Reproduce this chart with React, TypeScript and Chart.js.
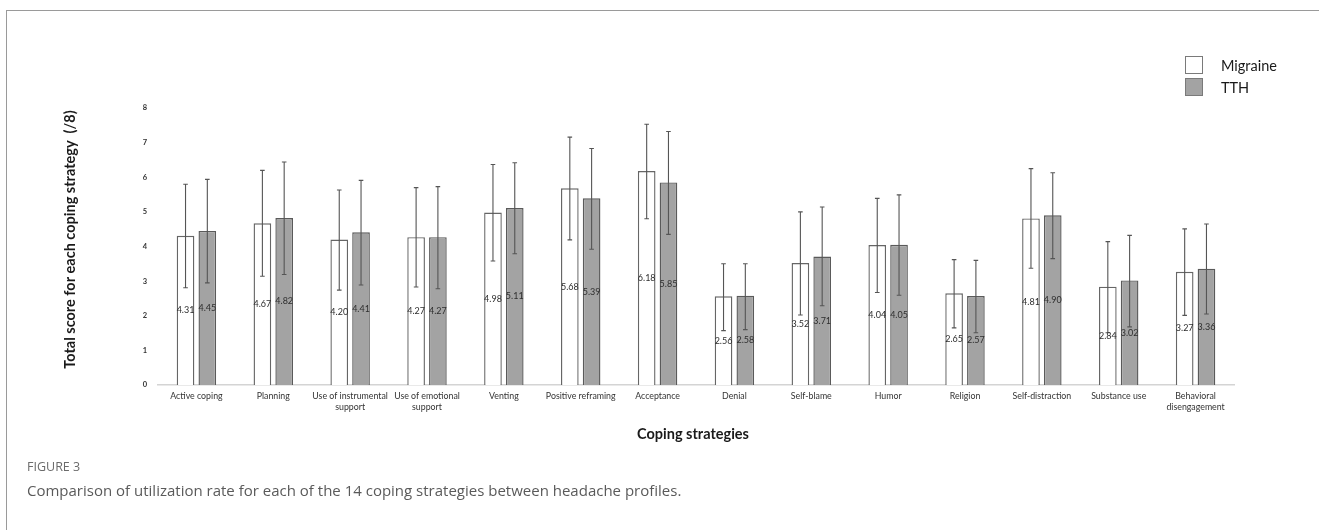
import React, { useEffect, useRef } from "react";
import { Chart, registerables } from "chart.js";

Chart.register(...registerables);

const categories: (string | string[])[] = [
  "Active coping",
  "Planning",
  ["Use of instrumental", "support"],
  ["Use of emotional", "support"],
  "Venting",
  "Positive reframing",
  "Acceptance",
  "Denial",
  "Self-blame",
  "Humor",
  "Religion",
  "Self-distraction",
  "Substance use",
  ["Behavioral", "disengagement"],
];

const migraine = [4.31, 4.67, 4.2, 4.27, 4.98, 5.68, 6.18, 2.56, 3.52, 4.04, 2.65, 4.81, 2.84, 3.27];
const tth = [4.45, 4.82, 4.41, 4.27, 5.11, 5.39, 5.85, 2.58, 3.71, 4.05, 2.57, 4.9, 3.02, 3.36];

const migraineUpper = [5.8, 6.2, 5.63, 5.7, 6.37, 7.16, 7.53, 3.5, 5.0, 5.39, 3.62, 6.25, 4.14, 4.51];
const migraineLower = [2.81, 3.14, 2.74, 2.83, 3.58, 4.19, 4.8, 1.57, 2.02, 2.67, 1.65, 3.37, 1.51, 2.01];
const tthUpper = [5.94, 6.44, 5.91, 5.73, 6.42, 6.83, 7.32, 3.5, 5.14, 5.49, 3.6, 6.13, 4.32, 4.65];
const tthLower = [2.95, 3.19, 2.89, 2.78, 3.79, 3.92, 4.35, 1.6, 2.29, 2.59, 1.51, 3.65, 1.68, 2.05];

const yTicks = [0, 1, 2, 3, 4, 5, 6, 7, 8];

const seriesNames = ["Migraine", "TTH"];
const errUpper = [migraineUpper, tthUpper];
const errLower = [migraineLower, tthLower];

const CHART_FONT = "Lato, 'Open Sans', sans-serif";

const errorBarPlugin = {
  id: "errorBars",
  afterDatasetsDraw(chart: any) {
    const ctx = chart.ctx;
    const y = chart.scales.y;
    ctx.save();
    chart.data.datasets.forEach((ds: any, di: number) => {
      const meta = chart.getDatasetMeta(di);
      meta.data.forEach((el: any, i: number) => {
        const x = el.x;
        const yt = y.getPixelForValue(errUpper[di][i]);
        const yb = y.getPixelForValue(errLower[di][i]);
        ctx.strokeStyle = "#555";
        ctx.lineWidth = 1.1;
        ctx.beginPath();
        ctx.moveTo(x, yt);
        ctx.lineTo(x, yb);
        ctx.moveTo(x - 2.3, yt);
        ctx.lineTo(x + 2.3, yt);
        ctx.moveTo(x - 2.3, yb);
        ctx.lineTo(x + 2.3, yb);
        ctx.stroke();
      });
    });
    // value labels
    ctx.fillStyle = "#2e2e2e";
    ctx.font = `9px ${CHART_FONT}`;
    ctx.textAlign = "center";
    ctx.textBaseline = "middle";
    chart.data.datasets.forEach((ds: any, di: number) => {
      const meta = chart.getDatasetMeta(di);
      meta.data.forEach((el: any, i: number) => {
        const v = ds.data[i] as number;
        const py = y.getPixelForValue(v / 2);
        ctx.fillText(v.toFixed(2), el.x, py);
      });
    });
    ctx.restore();
  },
  afterDraw(chart: any) {
    const ctx = chart.ctx;
    const ca = chart.chartArea;
    ctx.save();
    // y-axis title
    ctx.fillStyle = "#1a1a1a";
    ctx.font = `bold 14.5px ${CHART_FONT}`;
    ctx.textAlign = "center";
    ctx.textBaseline = "middle";
    ctx.translate(70, (ca.top + ca.bottom) / 2 - 7);
    ctx.rotate(-Math.PI / 2);
    ctx.fillText("Total score for each coping strategy  (/8)", 0, 0);
    ctx.restore();

    ctx.save();
    ctx.fillStyle = "#1a1a1a";
    ctx.font = `bold 14.5px ${CHART_FONT}`;
    ctx.textAlign = "center";
    ctx.textBaseline = "middle";
    ctx.fillText("Coping strategies", (ca.left + ca.right) / 2 - 3, ca.bottom + 49);

    // legend
    const fills = ["#ffffff", "#a3a3a3"];
    const boxX = 1185;
    const boxY = [56, 78];
    ctx.font = `14.5px ${CHART_FONT}`;
    ctx.textAlign = "left";
    seriesNames.forEach((name, i) => {
      ctx.fillStyle = fills[i];
      ctx.fillRect(boxX, boxY[i], 17, 17);
      ctx.strokeStyle = "#7a7a7a";
      ctx.lineWidth = 1;
      ctx.strokeRect(boxX + 0.5, boxY[i] + 0.5, 17, 17);
      ctx.fillStyle = "#1a1a1a";
      ctx.fillText(name, 1221, boxY[i] + 10);
    });
    ctx.restore();
  },
};

export default function App() {
  const canvasRef = useRef<HTMLCanvasElement | null>(null);

  useEffect(() => {
    if (!canvasRef.current) return;
    const chart = new Chart(canvasRef.current, {
      type: "bar",
      data: {
        labels: categories as any,
        datasets: [
          {
            label: seriesNames[0],
            data: migraine,
            backgroundColor: "#ffffff",
            borderColor: "#666",
            borderWidth: 1.4,
            categoryPercentage: 0.567,
            barPercentage: 0.81,
          },
          {
            label: seriesNames[1],
            data: tth,
            backgroundColor: "#a3a3a3",
            borderColor: "#5a5a5a",
            borderWidth: 1.4,
            categoryPercentage: 0.567,
            barPercentage: 0.81,
          },
        ],
      },
      options: {
        responsive: false,
        animation: false,
        devicePixelRatio: 1,
        layout: { padding: { left: 40, right: 85, top: 108, bottom: 95 } },
        plugins: {
          legend: { display: false },
          tooltip: { enabled: false },
        },
        scales: {
          x: {
            grid: { display: false, drawTicks: false },
            border: { display: true, color: "#d4d4d4", width: 1.5 },
            ticks: {
              color: "#333",
              font: { family: CHART_FONT, size: 8.8 },
              padding: 6,
              maxRotation: 0,
              autoSkip: false,
            },
            afterFit: (s: any) => {
              s.height = 50;
            },
          },
          y: {
            min: 0,
            max: 8,
            afterBuildTicks: (s: any) => {
              s.ticks = yTicks.map((v) => ({ value: v }));
            },
            grid: { display: false, drawTicks: false },
            border: { display: false },
            ticks: {
              color: "#333",
              font: { family: CHART_FONT, size: 7.5, weight: "bold" },
              padding: 11,
            },
            afterFit: (s: any) => {
              s.width = 118;
            },
          },
        },
      },
      plugins: [errorBarPlugin],
    });
    return () => chart.destroy();
  }, []);

  return (
    <div
      style={{
        position: "absolute",
        left: 0,
        top: 0,
        width: 1319,
        height: 530,
        background: "#fff",
        overflow: "hidden",
      }}
    >
      <canvas ref={canvasRef} width={1319} height={530} style={{ position: "absolute", left: 0, top: 0 }} />
      <div
        style={{
          position: "absolute",
          left: 6,
          top: 10,
          width: 1313,
          height: 520,
          borderTop: "1.5px solid #9a9a9a",
          borderLeft: "1.5px solid #9a9a9a",
          pointerEvents: "none",
        }}
      />
      <div
        style={{
          position: "absolute",
          left: 27,
          top: 458,
          fontFamily: "'Open Sans', sans-serif",
          fontSize: 12.5,
          color: "#6b6b6b",
          lineHeight: "18px",
          whiteSpace: "nowrap",
        }}
      >
        FIGURE 3
      </div>
      <div
        style={{
          position: "absolute",
          left: 27,
          top: 480,
          fontFamily: "'Open Sans', sans-serif",
          fontSize: 15,
          color: "#5a5a5a",
          lineHeight: "20px",
          whiteSpace: "nowrap",
        }}
      >
        Comparison of utilization rate for each of the 14 coping strategies between headache profiles.
      </div>
    </div>
  );
}
